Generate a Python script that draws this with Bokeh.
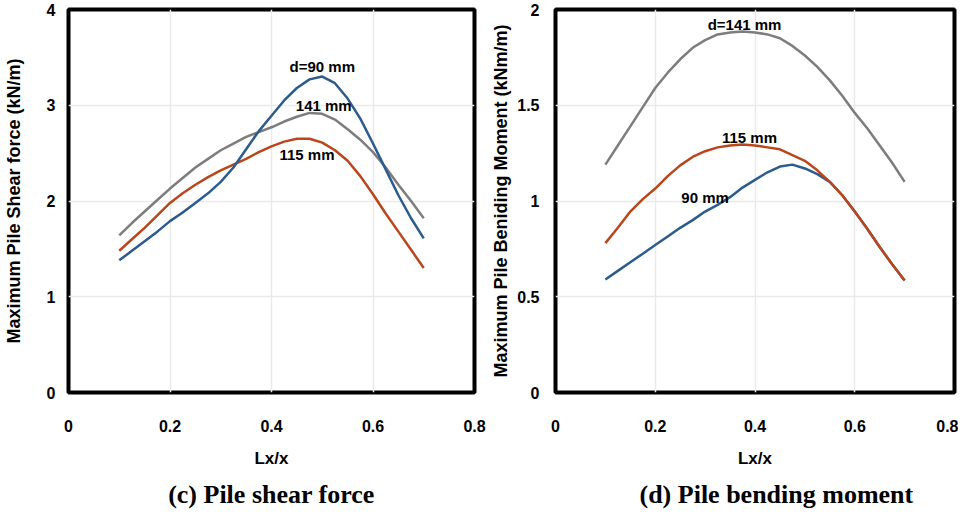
from bokeh.plotting import figure
from bokeh.layouts import row
from bokeh.models import Range1d, FixedTicker, Title, ColumnDataSource
from bokeh.core.properties import value
from bokeh.embed import file_html
from bokeh.resources import INLINE

# ---------------- data ----------------
lx = [0.1, 0.125, 0.15, 0.175, 0.2, 0.225, 0.25, 0.275, 0.3, 0.325, 0.35, 0.375, 0.4,
      0.425, 0.45, 0.475, 0.5, 0.525, 0.55, 0.575, 0.6, 0.625, 0.65, 0.675, 0.7]

# (c) pile shear force (kN/m)
shear_d90 = [1.38, 1.48, 1.58, 1.68, 1.79, 1.88, 1.98, 2.08, 2.20, 2.35, 2.54, 2.73, 2.89,
             3.05, 3.18, 3.27, 3.30, 3.23, 3.07, 2.86, 2.60, 2.33, 2.06, 1.82, 1.61]
shear_d141 = [1.64, 1.77, 1.89, 2.01, 2.13, 2.24, 2.35, 2.44, 2.53, 2.60, 2.67, 2.72, 2.77,
              2.83, 2.88, 2.92, 2.91, 2.85, 2.75, 2.64, 2.51, 2.35, 2.17, 2.00, 1.82]
shear_d115 = [1.48, 1.60, 1.72, 1.85, 1.98, 2.08, 2.17, 2.25, 2.32, 2.38, 2.44, 2.51, 2.57,
              2.62, 2.65, 2.65, 2.61, 2.53, 2.42, 2.26, 2.07, 1.87, 1.68, 1.49, 1.30]

# (d) pile bending moment (kNm/m)
moment_d141 = [1.19, 1.29, 1.39, 1.49, 1.59, 1.67, 1.74, 1.80, 1.84, 1.87, 1.88, 1.885, 1.88,
               1.87, 1.85, 1.81, 1.76, 1.70, 1.63, 1.55, 1.46, 1.38, 1.29, 1.20, 1.10]
moment_d115 = [0.78, 0.86, 0.945, 1.01, 1.065, 1.13, 1.186, 1.23, 1.26, 1.28, 1.29, 1.295, 1.29,
               1.28, 1.27, 1.24, 1.21, 1.16, 1.10, 1.03, 0.945, 0.855, 0.76, 0.67, 0.585]
moment_d90 = [0.59, 0.635, 0.68, 0.725, 0.77, 0.815, 0.86, 0.90, 0.945, 0.98, 1.02, 1.07, 1.11,
              1.15, 1.18, 1.19, 1.17, 1.14, 1.10, 1.03, 0.945, 0.855, 0.76, 0.67, 0.585]

x_ticks = [0, 0.2, 0.4, 0.6, 0.8]
x_tick_labels = ["0", "0.2", "0.4", "0.6", "0.8"]
shear_ticks = [0, 1, 2, 3, 4]
shear_tick_labels = ["0", "1", "2", "3", "4"]
moment_ticks = [0, 0.5, 1, 1.5, 2]
moment_tick_labels = ["0", "0.5", "1", "1.5", "2"]

shear_labels = ["d=90 mm", "141 mm", "115 mm"]
moment_labels = ["d=141 mm", "115 mm", "90 mm"]

# ---------------- style ----------------
BLUE = "#2c5b8e"
GRAY = "#7d7d7d"
ORANGE = "#b9461c"
SANS = "Liberation Sans"
SERIF = "Liberation Serif"


def make_fig(frame_w, frame_h, border_left, border_right, border_top, border_bottom,
             y_end, y_ticks, y_tick_labels, ylabel, title, title_align, title_offset,
             ytick_standoff, ylabel_standoff):
    p = figure(frame_width=frame_w, frame_height=frame_h, output_backend="svg",
               toolbar_location=None,
               x_range=Range1d(0, 0.8), y_range=Range1d(0, y_end),
               min_border_left=border_left, min_border_right=border_right,
               min_border_top=border_top, min_border_bottom=border_bottom)
    p.background_fill_color = "white"
    p.border_fill_color = "white"
    p.outline_line_color = "black"
    p.outline_line_width = 4

    p.xaxis.ticker = FixedTicker(ticks=x_ticks)
    p.xaxis.major_label_overrides = dict(zip(x_ticks, x_tick_labels))
    p.yaxis.ticker = FixedTicker(ticks=y_ticks)
    p.yaxis.major_label_overrides = dict(zip(y_ticks, y_tick_labels))

    for ax in (p.xaxis[0], p.yaxis[0]):
        ax.axis_line_color = None
        ax.major_tick_line_color = None
        ax.minor_tick_line_color = None
        ax.major_tick_out = 0
        ax.major_tick_in = 0
        ax.minor_tick_out = 0
        ax.minor_tick_in = 0
        ax.major_label_text_font = SANS
        ax.major_label_text_font_style = "bold"
        ax.major_label_text_font_size = "16px"
        ax.major_label_text_color = "black"
        ax.axis_label_text_font = SANS
        ax.axis_label_text_font_style = "bold"
        ax.axis_label_text_color = "black"

    p.xaxis.major_label_standoff = 27
    p.xaxis.axis_label = "Lx/x"
    p.xaxis.axis_label_text_font_size = "17px"
    p.xaxis.axis_label_standoff = 14

    p.yaxis.major_label_standoff = ytick_standoff
    p.yaxis.axis_label = ylabel
    p.yaxis.axis_label_text_font_size = "18px"
    p.yaxis.axis_label_standoff = ylabel_standoff

    p.xgrid.ticker = FixedTicker(ticks=x_ticks)
    p.ygrid.ticker = FixedTicker(ticks=y_ticks)
    p.grid.grid_line_color = "#eaeaea"
    p.grid.grid_line_width = 1.5

    t = Title(text=title, align=title_align, offset=title_offset,
              text_font=SERIF, text_font_style="bold", text_font_size="26px",
              text_color="black", standoff=15)
    p.add_layout(t, "below")
    return p


# ---------------- (c) shear ----------------
p1 = make_fig(406, 383, 60, 14, 9, 112, 4, shear_ticks, shear_tick_labels,
              "Maximum Pile Shear force (kN/m)", "(c) Pile shear force", "center", 0, 13, 20)
p1.line(lx, shear_d141, line_color=GRAY, line_width=2.5)
p1.line(lx, shear_d115, line_color=ORANGE, line_width=2.5)
p1.line(lx, shear_d90, line_color=BLUE, line_width=2.5)
src1 = ColumnDataSource(dict(x=[0.5, 0.503, 0.47], y=[3.40, 3.0, 2.49], t=shear_labels))
p1.text(x="x", y="y", text="t", source=src1, text_align="center", text_baseline="middle",
        text_font=value(SANS), text_font_style="bold", text_font_size="15px", text_color="black")

# ---------------- (d) moment ----------------
p2 = make_fig(399, 383, 65, 4, 9, 112, 2, moment_ticks, moment_tick_labels,
              "Maximum Pile Beniding Moment (kNm/m)", "(d) Pile bending moment", "left", 84, 16, 3)
p2.line(lx, moment_d141, line_color=GRAY, line_width=2.5)
p2.line(lx, moment_d90, line_color=BLUE, line_width=2.5)
p2.line(lx, moment_d115, line_color=ORANGE, line_width=2.5)
src2 = ColumnDataSource(dict(x=[0.379, 0.389, 0.30], y=[1.92, 1.33, 1.02], t=moment_labels))
p2.text(x="x", y="y", text="t", source=src2, text_align="center", text_baseline="middle",
        text_font=value(SANS), text_font_style="bold", text_font_size="15px", text_color="black")

layout = row(p1, p2)
open("out.html", "w").write(file_html(layout, INLINE))
